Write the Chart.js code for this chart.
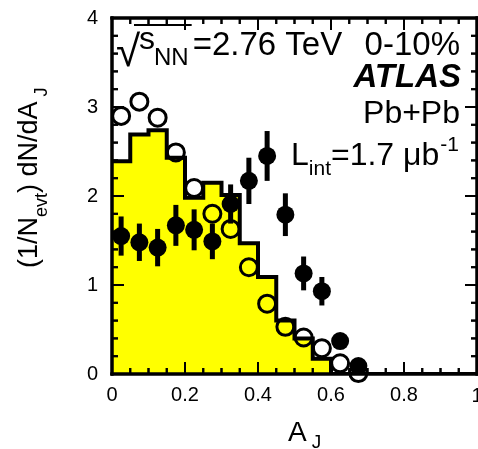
<!DOCTYPE html>
<html><head><meta charset="utf-8">
<script src="https://cdn.jsdelivr.net/npm/chart.js@4/dist/chart.umd.min.js"></script>
<style>html,body{margin:0;padding:0;background:#fff}#wrap{width:478px;height:449px;position:relative}</style>
</head><body><div id="wrap"><canvas id="c"></canvas></div>
<script>
// ---- data ----
const binWidth = 0.05;
const histCenters = [0.025,0.075,0.125,0.175,0.225,0.275,0.325,0.375,0.425,0.475,0.525,0.575,0.625,0.675,0.725,0.775,0.825,0.875,0.925,0.975];
const histValues  = [2.39,2.69,2.74,2.43,1.98,2.15,2.01,1.47,1.09,0.60,0.40,0.17,0,0,0,0,0,0,0,0];
const ppCenters   = [0.025,0.075,0.125,0.175,0.225,0.275,0.325,0.375,0.425,0.475,0.525,0.575,0.625,0.675];
const ppValues    = [2.90,3.06,2.88,2.49,2.09,1.80,1.63,1.20,0.79,0.53,0.41,0.29,0.12,0.01];
const pbCenters   = [0.025,0.075,0.125,0.175,0.225,0.275,0.325,0.375,0.425,0.475,0.525,0.575,0.625,0.675];
const pbValues    = [1.55,1.48,1.42,1.67,1.62,1.49,1.91,2.17,2.45,1.79,1.13,0.93,0.37,0.09];
const pbErrors    = [0.22,0.21,0.21,0.23,0.23,0.20,0.22,0.26,0.28,0.24,0.19,0.16,0.05,0.03];
const xTickLabels = ['0','0.2','0.4','0.6','0.8','1'];
const yTickLabels = ['0','1','2','3','4'];

const FONT = '"Liberation Sans", Arial, Helvetica, sans-serif';

const histPoints = histCenters.map((c,i)=>({x:c-binWidth/2, y:histValues[i]}));
histPoints.push({x:histCenters[histCenters.length-1]+binWidth/2, y:0});

function resetCtx(ctx){
  ctx.setTransform(1,0,0,1,0,0);
  ctx.setLineDash([]); ctx.globalAlpha=1; ctx.globalCompositeOperation='source-over';
  ctx.shadowColor='rgba(0,0,0,0)';
}

function drawErrorBars(chart){
  const ctx=chart.ctx, xs=chart.scales.x, ys=chart.scales.y;
  ctx.save(); resetCtx(ctx);
  ctx.fillStyle='#000';
  pbCenters.forEach((c,i)=>{
    const px=xs.getPixelForValue(c);
    const yTop=ys.getPixelForValue(pbValues[i]+pbErrors[i]);
    const yBot=ys.getPixelForValue(pbValues[i]-pbErrors[i]);
    ctx.fillRect(px-2.5, yTop, 5, yBot-yTop);
  });
  ctx.restore();
}

function drawFrame(chart){
  const ctx=chart.ctx, xs=chart.scales.x, ys=chart.scales.y, a=chart.chartArea;
  ctx.save(); resetCtx(ctx);
  ctx.fillStyle='#000';
  for(let k=0;k<=20;k++){
    const px=xs.getPixelForValue(k*0.05);
    const len=(k%4===0)?12:6;
    ctx.fillRect(px-1, a.bottom-len, 2, len);
    ctx.fillRect(px-1, a.top, 2, len);
  }
  for(let k=0;k<=20;k++){
    const py=ys.getPixelForValue(k*0.2);
    const len=(k%5===0)?12:6;
    ctx.fillRect(a.left, py-1, len, 2);
    ctx.fillRect(a.right-len, py-1, len, 2);
  }
  const w=3;
  ctx.fillRect(a.left-w/2, a.top-w/2, a.right-a.left+w, w);
  ctx.fillRect(a.left-w/2, a.bottom-w/2, a.right-a.left+w, w);
  ctx.fillRect(a.left-w/2, a.top-w/2, w, a.bottom-a.top+w);
  ctx.fillRect(a.right-w/2, a.top-w/2, w, a.bottom-a.top+w);
  ctx.restore();
}

function drawLabels(chart){
  const ctx=chart.ctx, xs=chart.scales.x;
  ctx.save(); resetCtx(ctx);
  ctx.fillStyle='#000'; ctx.textBaseline='alphabetic'; ctx.textAlign='left';
  const f=(s,b,i)=>(i?'italic ':'')+(b?'bold ':'')+s+'px '+FONT;
  // last x tick label centred on the axis end (clipped by the canvas edge)
  ctx.textAlign='center'; ctx.font=f(20);
  ctx.fillText(xTickLabels[5], xs.getPixelForValue(1), 402);
  ctx.textAlign='left';
  // sqrt(s_NN)=2.76 TeV   0-10%
  ctx.font=f(44); ctx.fillText('\u221A',116,66);
  ctx.font=f(32); ctx.fillText('s',139,49);
  ctx.font=f(24); ctx.fillText('NN',154,65);
  const ovEnd=154+ctx.measureText('NN').width+3;
  ctx.fillRect(134, 24, ovEnd-134, 2);
  ctx.font=f(33); ctx.fillText('=2.76 TeV',ovEnd+1,55);
  ctx.textAlign='right'; ctx.fillText('0-10%',460,55);
  ctx.font=f(33,true,true); ctx.fillText('ATLAS',461,87);
  ctx.font=f(32); ctx.fillText('Pb+Pb',460,123);
  ctx.textAlign='left';
  let x=291;
  ctx.font=f(32); ctx.fillText('L',x,165); x+=ctx.measureText('L').width;
  ctx.font=f(21); ctx.fillText('int',x,175); x+=ctx.measureText('int').width;
  ctx.font=f(32); ctx.fillText('=1.7 \u03BCb',x,165); x+=ctx.measureText('=1.7 \u03BCb').width;
  ctx.font=f(21); ctx.fillText('-1',x+1,151);
  x=288;
  ctx.font=f(28); ctx.fillText('A',x,441); x+=ctx.measureText('A').width;
  ctx.font=f(19); ctx.fillText('J',x+5,448);
  ctx.translate(37,268); ctx.rotate(-Math.PI/2);
  x=0;
  ctx.font=f(27); ctx.fillText('(1/N',x,0); x+=ctx.measureText('(1/N').width;
  ctx.font=f(18); ctx.fillText('evt',x,10); x+=ctx.measureText('evt').width;
  ctx.font=f(27); ctx.fillText(') dN/dA',x,0); x+=ctx.measureText(') dN/dA').width;
  ctx.font=f(18); ctx.fillText('J',x+5,10);
  ctx.restore();
}

const decor = {
  id:'decor',
  afterDatasetsDraw(chart){ drawErrorBars(chart); drawFrame(chart); },
  afterDraw(chart){ drawLabels(chart); drawFrame(chart); }
};

new Chart(document.getElementById('c'),{
  type:'line',
  data:{datasets:[
    {label:'Pb+Pb', data:pbCenters.map((c,i)=>({x:c,y:pbValues[i]})), showLine:false, pointRadius:9,
     pointBorderWidth:0, pointBackgroundColor:'#000', pointBorderColor:'#000', clip:false},
    {label:'p+p', data:ppCenters.map((c,i)=>({x:c,y:ppValues[i]})), showLine:false, pointRadius:8.5,
     pointBorderWidth:3, pointBackgroundColor:'rgba(0,0,0,0)', pointBorderColor:'#000', clip:false},
    {label:'HIJING+PYTHIA', data:histPoints, stepped:'before', fill:'origin', backgroundColor:'#ffff00',
     borderColor:'#000', borderWidth:4, pointRadius:0}
  ]},
  options:{
    responsive:true, maintainAspectRatio:false, animation:false, devicePixelRatio:1,
    layout:{padding:{top:14,right:1,left:0,bottom:0}, autoPadding:false},
    plugins:{legend:{display:false}, tooltip:{enabled:false}},
    scales:{
      x:{type:'linear', min:0, max:1,
         grid:{display:true, drawOnChartArea:false, drawTicks:true, tickLength:9, color:'rgba(0,0,0,0)'},
         border:{display:false},
         ticks:{stepSize:0.2, color:'#000', font:{size:20, family:FONT}, padding:0, maxRotation:0,
                callback:(v)=>{const i=Math.round(v/0.2); return i===5?'':xTickLabels[i];}},
         afterFit(s){s.height=75;}},
      y:{type:'linear', min:0, max:4,
         grid:{display:false}, border:{display:false},
         ticks:{stepSize:1, color:'#000', font:{size:20, family:FONT}, padding:6,
                callback:(v)=>yTickLabels[Math.round(v)]},
         afterFit(s){s.width=112;}}
    }
  },
  plugins:[decor]
});
</script></body></html>
